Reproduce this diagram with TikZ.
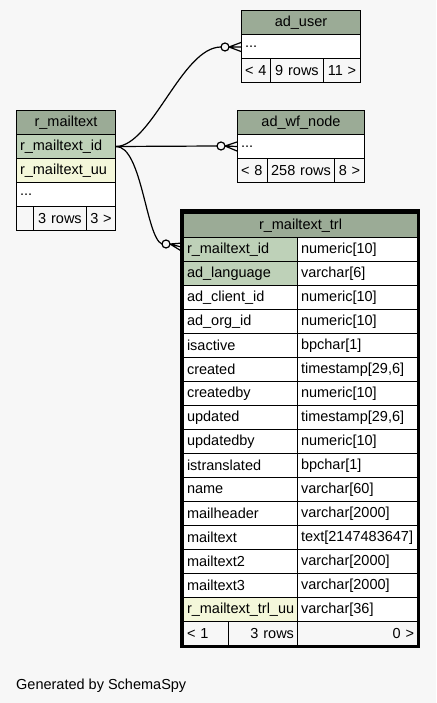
\documentclass[tikz,border=0pt]{standalone}
\usepackage{fontspec}
\setmainfont{Liberation Sans}
\usetikzlibrary{calc}
\definecolor{bg}{HTML}{F7F7F7}
\definecolor{hdr}{HTML}{9BAB96}
\definecolor{keyc}{HTML}{BED1B8}
\definecolor{uuc}{HTML}{F4F7DA}
\newcommand\fs{\fontsize{14.5}{16}\selectfont}
\tikzset{
  cellbox/.style={draw=black, line width=1pt, rectangle, anchor=north west,
    inner xsep=3.5pt, inner ysep=0pt, minimum height=24pt, font=\fs},
  conn/.style={draw=black, line width=1.2pt},
}
% #1 align, #2 name, #3 x, #4 y, #5 width, #6 fill, #7 text
\newcommand\tcell[7]{%
  \pgfmathsetmacro\tw{#5-7}%
  \node[cellbox, fill=#6, text width=\tw pt, align=#1] (#2) at (#3,#4) {#7};}
\newcommand\crowto[2]{%
  \draw[conn] (#1) circle[radius=4pt];
  \draw[conn] ([xshift=4pt]#1) -- ($(#2)+(0,-4.5)$)
              ([xshift=4pt]#1) -- (#2)
              ([xshift=4pt]#1) -- ($(#2)+(0,4.5)$);}
\begin{document}
\begin{tikzpicture}[x=1pt,y=-1pt]
\fill[bg] (0,0) rectangle (436,703);
\useasboundingbox (0,0) rectangle (436,703);

% ad_user
\tcell{center}{uh}{241}{10}{119}{hdr}{ad\_user}
\tcell{left}{u1}{241}{34}{119}{white}{...}
\tcell{left}{uf1}{241}{58}{29}{bg}{< 4}
\tcell{center}{uf2}{270}{58}{53}{bg}{9 rows}
\tcell{center}{uf3}{323}{58}{37}{bg}{11 >}

% ad_wf_node
\tcell{center}{wh}{237}{110}{127}{hdr}{ad\_wf\_node}
\tcell{left}{w1}{237}{134}{127}{white}{...}
\tcell{left}{wf1}{237}{158}{30}{bg}{< 8}
\tcell{center}{wf2}{267}{158}{67}{bg}{258 rows}
\tcell{center}{wf3}{334}{158}{30}{bg}{8 >}

% r_mailtext
\tcell{center}{mh}{16}{110}{99}{hdr}{r\_mailtext}
\tcell{left}{m1}{16}{134}{99}{keyc}{r\_mailtext\_id}
\tcell{left}{m2}{16}{158}{99}{uuc}{r\_mailtext\_uu}
\tcell{left}{m3}{16}{182}{99}{white}{...}
\tcell{left}{mf1}{16}{206}{17}{bg}{}
\tcell{center}{mf2}{33}{206}{53}{bg}{3 rows}
\tcell{center}{mf3}{86}{206}{29}{bg}{3 >}

% r_mailtext_trl
\tcell{center}{th}{183}{213}{234}{hdr}{r\_mailtext\_trl}
\foreach \i/\a/\b/\c in {
  1/r\_mailtext\_id/numeric[10]/keyc,
  2/ad\_language/varchar[6]/keyc,
  3/ad\_client\_id/numeric[10]/white,
  4/ad\_org\_id/numeric[10]/white,
  5/isactive/bpchar[1]/white,
  6/created/{timestamp[29,6]}/white,
  7/createdby/numeric[10]/white,
  8/updated/{timestamp[29,6]}/white,
  9/updatedby/numeric[10]/white,
  10/istranslated/bpchar[1]/white,
  11/name/varchar[60]/white,
  12/mailheader/varchar[2000]/white,
  13/mailtext/text[2147483647]/white,
  14/mailtext2/varchar[2000]/white,
  15/mailtext3/varchar[2000]/white,
  16/r\_mailtext\_trl\_uu/varchar[36]/uuc}{
  \pgfmathsetmacro\yy{213+24*\i}
  \tcell{left}{tl\i}{183}{\yy}{114}{\c}{\a}
  \tcell{left}{tr\i}{297}{\yy}{120}{white}{\b}
}
\tcell{left}{tf1}{183}{621}{45}{bg}{< 1}
\tcell{right}{tf2}{228}{621}{69}{bg}{3 rows}
\tcell{right}{tf3}{297}{621}{120}{bg}{0 >}
\draw[line width=3.5pt] (181.3,211) rectangle (418.5,646.5);

% connectors
\coordinate (cu) at (225,47);
\coordinate (cw) at (221,146);
\coordinate (ct) at (166,244);
\draw[conn] (m1.east) .. controls (152,146) and (182,47) .. ([xshift=-4pt]cu);
\crowto{cu}{u1.west |- cu}
\draw[conn] (m1.east) -- ([xshift=-4pt]cw);
\crowto{cw}{w1.west}
\draw[conn] (m1.east) .. controls (142,146) and (146,238) .. ([xshift=-4pt]ct);
\crowto{ct}{$(tl1.west)+(0,-2)$}

\node[font=\fs, anchor=base west, inner sep=0pt] (gen) at (16,689) {Generated by SchemaSpy};
\end{tikzpicture}
\end{document}
